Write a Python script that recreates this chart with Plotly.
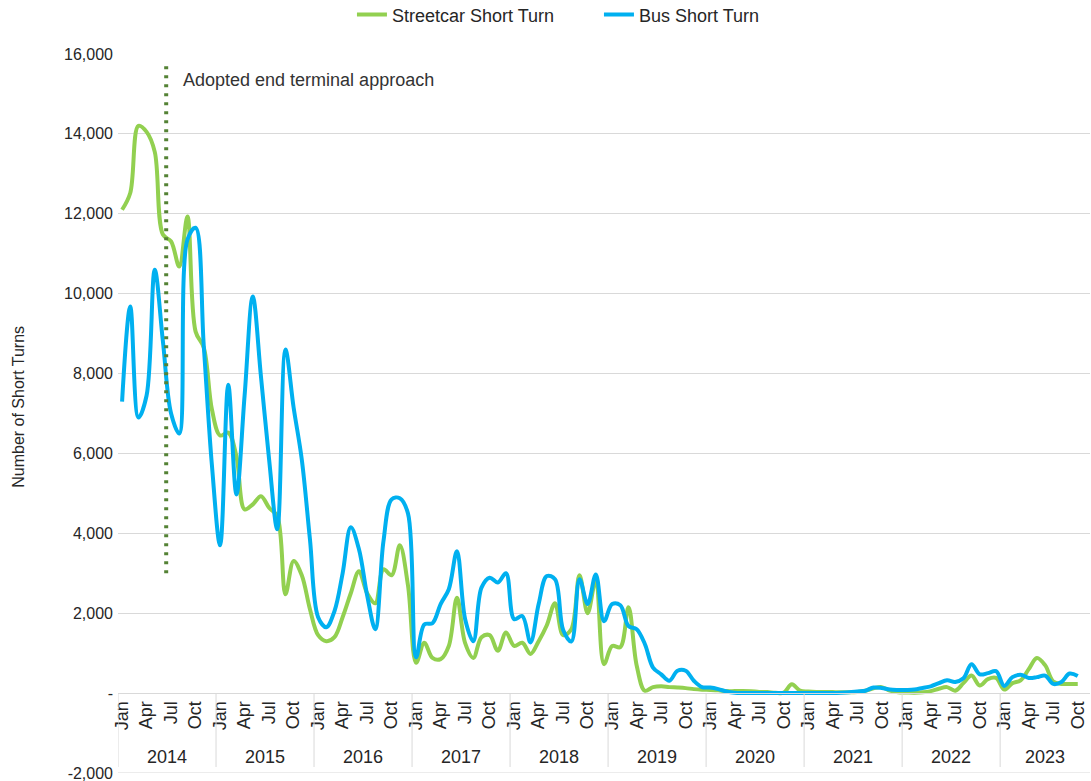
import plotly.graph_objects as go

# Monthly short-turn counts, Jan 2014 - Oct 2023
years = [2014, 2015, 2016, 2017, 2018, 2019, 2020, 2021, 2022, 2023]
month_names = ["Jan", "Feb", "Mar", "Apr", "May", "Jun",
               "Jul", "Aug", "Sep", "Oct", "Nov", "Dec"]
months_in_axis = [12, 12, 12, 12, 12, 12, 12, 12, 12, 11]

streetcar = [
    # 2014
    12100, 12520, 14200, 14050, 13550, 11480, 11310, 10680, 11930, 9050, 8650, 7100,
    # 2015
    6450, 6520, 5930, 4600, 4725, 4930, 4640, 4430, 2475, 3310, 2950, 2100,
    # 2016
    1450, 1300, 1400, 1900, 2500, 3050, 2500, 2250, 3100, 2950, 3700, 2700,
    # 2017
    760, 1260, 880, 850, 1180, 2390, 1250, 880, 1400, 1450, 1060, 1520,
    # 2018
    1180, 1260, 980, 1300, 1700, 2250, 1450, 1600, 2950, 2000, 2850, 725,
    # 2019
    1180, 1150, 2150, 690, 60, 150, 170, 150, 140, 125, 100, 85,
    # 2020
    80, 70, 50, 50, 50, 45, 30, 25, 10, 10, 220, 60,
    # 2021
    40, 30, 30, 25, 20, 20, 30, 60, 120, 150, 60, 20,
    # 2022
    15, 10, 20, 50, 110, 150, 60, 250, 440, 190, 350, 380,
    # 2023
    90, 250, 320, 600, 880, 700, 290, 230, 230, 230,
]

bus = [
    # 2014
    7300, 9680, 6900, 7450, 10600, 8800, 7000, 6500, 11350, 11650, 8700, 5700,
    # 2015
    3700, 7720, 4970, 7450, 9930, 7930, 5850, 4100, 8600, 7150, 5850, 3850,
    # 2016
    1900, 1650, 2050, 3000, 4150, 3600, 2450, 1600, 3800, 4850, 4880, 4500,
    # 2017
    900, 1720, 1750, 2230, 2600, 3550, 1850, 1300, 2640, 2890, 2770, 3000,
    # 2018
    1850, 1930, 1270, 2230, 2930, 2850, 1580, 1290, 2850, 2230, 2970, 1800,
    # 2019
    2230, 2200, 1680, 1600, 1230, 640, 470, 310, 560, 560, 310, 150,
    # 2020
    140, 100, 40, 10, 5, 5, 5, 5, 5, 5, 5, 5,
    # 2021
    5, 5, 5, 5, 10, 20, 40, 60, 140, 130, 90, 80,
    # 2022
    80, 90, 130, 170, 250, 320, 280, 370, 720, 470, 500, 550,
    # 2023
    180, 400, 460, 380, 400, 440, 230, 280, 490, 430,
]

n_cat = sum(months_in_axis)
x_idx = list(range(len(streetcar)))

# tick positions on the month axis (Jan / Apr / Jul / Oct)
tick_vals, tick_text = [], []
pos = 0
for y, nm in zip(years, months_in_axis):
    for m in range(nm):
        if m % 3 == 0:
            tick_vals.append(pos + m)
            tick_text.append(month_names[m])
    pos += nm

y_ticks = list(range(-2000, 16001, 2000))
y_text = ["-" if v == 0 else f"{v:,}" for v in y_ticks]

GREEN = "#92D050"
BLUE = "#00B0F0"
GRID = "#D9D9D9"
TEXT = "#262626"
FONT = "Liberation Sans, Arial, sans-serif"

fig = go.Figure()
fig.add_trace(go.Scatter(
    x=x_idx, y=streetcar, mode="lines", name="Streetcar Short Turn",
    line=dict(color=GREEN, width=4, shape="spline", smoothing=1.0),
))
fig.add_trace(go.Scatter(
    x=x_idx, y=bus, mode="lines", name="Bus Short Turn",
    line=dict(color=BLUE, width=4, shape="spline", smoothing=1.0),
))

y_min, y_max = -2000, 16000
zero_frac = (0 - y_min) / (y_max - y_min)

shapes = []
annotations = []
# bottom gridline of the value axis
shapes.append(dict(type="line", xref="paper", yref="y", x0=0, x1=1,
                   y0=y_min, y1=y_min, layer="below",
                   line=dict(color=GRID, width=1)))
# year group dividers and labels under the month axis
start = 0
for y, nm in zip(years, months_in_axis):
    shapes.append(dict(type="line", xref="x", yref="y",
                       x0=start - 0.5, x1=start - 0.5, y0=0, y1=-1850,
                       line=dict(color=GRID, width=1)))
    annotations.append(dict(x=start - 0.5 + nm / 2, y=-1600, xref="x", yref="y",
                            text=str(y), showarrow=False,
                            font=dict(family=FONT, size=18, color=TEXT)))
    start += nm

# policy marker
shapes.append(dict(type="line", xref="x", yref="y",
                   x0=5.4, x1=5.4, y0=3000, y1=15800,
                   line=dict(color="#548235", width=4, dash="3px,6px")))
annotations.append(dict(x=7.2, y=15350, xref="x", yref="y", xanchor="left",
                        text="Adopted end terminal approach", showarrow=False,
                        font=dict(family=FONT, size=18, color="#333333")))
annotations.append(dict(x=-0.1132, y=0.51, xref="paper", yref="paper",
                        text="Number of Short Turns", textangle=-90,
                        showarrow=False,
                        font=dict(family=FONT, size=16, color=TEXT)))

fig.update_layout(
    width=1091, height=781,
    margin=dict(l=118, r=1, t=54, b=8),
    paper_bgcolor="white", plot_bgcolor="white",
    font=dict(family=FONT, size=16, color=TEXT),
    showlegend=True,
    legend=dict(orientation="h", x=0.3226, xanchor="left", xref="container",
                y=0.981, yanchor="middle", yref="container",
                itemwidth=30, entrywidth=202, entrywidthmode="pixels",
                font=dict(family=FONT, size=18, color=TEXT),
                bgcolor="rgba(0,0,0,0)"),
    xaxis=dict(range=[-0.5, n_cat - 0.5], tickmode="array",
               tickvals=tick_vals, ticktext=tick_text, tickangle=-90,
               anchor="free", position=zero_frac, automargin=False,
               showgrid=False, zeroline=False,
               showline=True, linecolor=GRID, linewidth=1,
               ticks="", tickfont=dict(family=FONT, size=18, color=TEXT)),
    yaxis=dict(range=[y_min, y_max], tickmode="array",
               tickvals=y_ticks, ticktext=y_text, automargin=False,
               ticklabeloverflow="allow",
               showgrid=True, gridcolor=GRID, gridwidth=1,
               zeroline=False, showline=False, ticks="",
               ticklabelstandoff=4,
               tickfont=dict(family=FONT, size=16, color=TEXT)),
    shapes=shapes,
    annotations=annotations,
)

fig.write_html("out.html")
